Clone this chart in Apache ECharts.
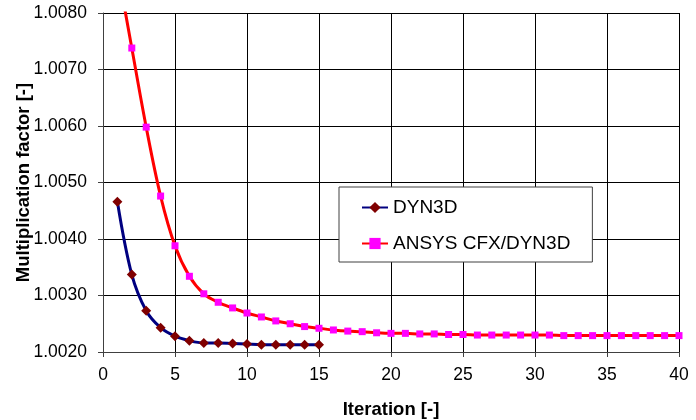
<!DOCTYPE html>
<html>
<head>
<meta charset="utf-8">
<script src="https://cdn.jsdelivr.net/npm/echarts@6/dist/echarts.min.js"></script>
<style>
  html, body { margin: 0; padding: 0; background: #fff; }
  #main { width: 696px; height: 420px; }
</style>
</head>
<body>
<div id="main"></div>
<script>
  // data
  var dyn3dIter = [1, 2, 3, 4, 5, 6, 7, 8, 9, 10, 11, 12, 13, 14, 15];
  var dyn3dK = [1.00466, 1.00337, 1.00273, 1.00243, 1.00228, 1.00220, 1.00216, 1.00216, 1.00215,
                1.00214, 1.00213, 1.00213, 1.00213, 1.00213, 1.00213];

  var cfxIter = [1, 2, 3, 4, 5, 6, 7, 8, 9, 10, 11, 12, 13, 14, 15, 16, 17, 18, 19, 20,
                 21, 22, 23, 24, 25, 26, 27, 28, 29, 30, 31, 32, 33, 34, 35, 36, 37, 38, 39, 40];
  var cfxK = [1.00880, 1.00738, 1.00598, 1.00476, 1.00388, 1.00334, 1.00303, 1.00288, 1.00278, 1.00269,
              1.00262, 1.00255, 1.00250, 1.00245, 1.00242, 1.00239, 1.00237, 1.00236, 1.00234, 1.00233,
              1.00233, 1.00232, 1.00232, 1.00231, 1.00231, 1.00230, 1.00230, 1.00230, 1.00230, 1.00230,
              1.00230, 1.00229, 1.00229, 1.00229, 1.00229, 1.00229, 1.00229, 1.00229, 1.00229, 1.00229];

  var xTicks = [0, 40, 5];            // min, max, step
  var yTicks = [1.0020, 1.0080, 0.0010];

  var font = 'Liberation Sans, Arial, sans-serif';

  function pairs(xs, ys) {
    return xs.map(function (x, i) { return [x, ys[i]]; });
  }

  var myChart = echarts.init(document.getElementById('main'), null, { renderer: 'canvas' });

  var option = {
    animation: false,
    backgroundColor: '#fff',
    grid: { left: 103, right: 17, top: 13, bottom: 68, containLabel: false, outerBoundsMode: 'none' },
    legend: {
      orient: 'vertical',
      left: 339,
      top: 187,
      width: 253,
      padding: [11, 22, 9, 22],
      itemGap: 17,
      itemWidth: 26,
      itemHeight: 14,
      backgroundColor: '#fff',
      borderColor: '#404040',
      borderWidth: 1,
      textStyle: { fontFamily: font, fontSize: 19, color: '#000' },
      data: ['DYN3D', 'ANSYS CFX/DYN3D']
    },
    xAxis: {
      type: 'value',
      min: xTicks[0],
      max: xTicks[1],
      interval: xTicks[2],
      name: 'Iteration [-]',
      nameLocation: 'middle',
      nameGap: 48,
      nameTextStyle: { fontFamily: font, fontSize: 18.5, fontWeight: 'bold', color: '#000' },
      axisLine: { onZero: false, lineStyle: { color: '#404040', width: 1 } },
      axisTick: { show: true, length: 5, lineStyle: { color: '#404040' } },
      axisLabel: { fontFamily: font, fontSize: 17.5, color: '#000', margin: 14 },
      splitLine: { show: true, lineStyle: { color: '#000', width: 1 } }
    },
    yAxis: {
      type: 'value',
      min: yTicks[0],
      max: yTicks[1],
      interval: yTicks[2],
      name: 'Multiplication factor [-]',
      nameLocation: 'middle',
      nameGap: 70,
      nameMoveOverlap: false,
      nameTextStyle: { fontFamily: font, fontSize: 18.5, fontWeight: 'bold', color: '#000' },
      axisLine: { show: true, lineStyle: { color: '#404040', width: 1 } },
      axisTick: { show: true, length: 5, lineStyle: { color: '#404040' } },
      axisLabel: {
        fontFamily: font, fontSize: 17.5, color: '#000', margin: 16,
        formatter: function (v) { return v.toFixed(4); }
      },
      splitLine: { show: true, lineStyle: { color: '#000', width: 1 } }
    },
    series: [
      {
        name: 'DYN3D',
        type: 'line',
        data: pairs(dyn3dIter, dyn3dK),
        smooth: 0.35,
        symbol: 'diamond',
        symbolSize: 10,
        lineStyle: { color: '#000080', width: 3 },
        itemStyle: { color: '#800000' },
        z: 3
      },
      {
        name: 'ANSYS CFX/DYN3D',
        type: 'line',
        data: pairs(cfxIter, cfxK),
        smooth: 0.35,
        clip: true,
        symbol: 'rect',
        symbolSize: 7,
        lineStyle: { color: '#ff0000', width: 3 },
        itemStyle: { color: '#ff00ff' },
        z: 2
      }
    ]
  };

  myChart.setOption(option);
</script>
</body>
</html>
